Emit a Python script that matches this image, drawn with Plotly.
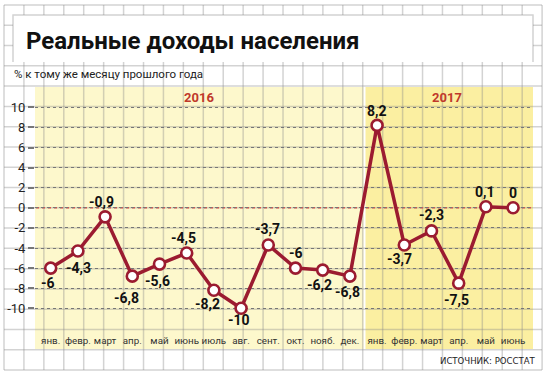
import plotly.graph_objects as go

# ---------------- data ----------------
months = ["янв.", "февр.", "март", "апр.", "май", "июнь", "июль", "авг.", "сент.",
          "окт.", "нояб.", "дек.", "янв.", "февр.", "март", "апр.", "май", "июнь"]
values = [-6, -4.3, -0.9, -6.8, -5.6, -4.5, -8.2, -10, -3.7, -6, -6.2, -6.8,
          8.2, -3.7, -2.3, -7.5, 0.1, 0]
ytick_vals = [10, 8, 6, 4, 2, 0, -2, -4, -6, -8, -10]
ytick_text = ["10", "8", "6", "4", "2", "0", "-2", "-4", "-6", "-8", "-10"]
years = ["2016", "2017"]
title = "Реальные доходы населения"
subtitle = "% к тому же месяцу прошлого года"
source = "ИСТОЧНИК: РОССТАТ"

# label placement (pixel offsets, styling only)
lab_dy = [15, 17, -15, 22, 17, -15, 14, 12, -16, -15, 15, 16, -14, 14, -16, 17, -15, -15]
lab_dx = [-3, 1, -4, -6, -2, -3, -6, -2, -1, 1, -3, -2, 0, -5, 0, -2, -1, 0]

W, H = 547, 380
def X(p):
    return p / W
def Y(p):
    return 1 - p / H

RED = "#9B1B30"
GRID = "rgba(140,140,140,0.38)"
x = list(range(len(months)))

fig = go.Figure()
fig.add_trace(go.Scatter(
    x=x, y=values, mode="lines+markers",
    line=dict(color=RED, width=3.5),
    marker=dict(size=11, color="white", line=dict(color=RED, width=2.6)),
    hoverinfo="skip", showlegend=False,
))

shapes = []
# yellow year zones
shapes.append(dict(type="rect", xref="paper", yref="paper", x0=X(35), x1=X(363.5),
                   y0=Y(349), y1=Y(87), fillcolor="#FDF8CC", line=dict(width=0), layer="below"))
shapes.append(dict(type="rect", xref="paper", yref="paper", x0=X(365.5), x1=X(533),
                   y0=Y(349), y1=Y(87), fillcolor="#FBEFA1", line=dict(width=0), layer="below"))
# background squared paper
for k in range(28):
    px = 4 + 19.93 * k
    shapes.append(dict(type="line", xref="paper", yref="paper", x0=X(px), x1=X(px),
                       y0=Y(5), y1=Y(370), line=dict(color=GRID, width=1.5), layer="below"))
for k in range(19):
    py = 5 + 20.28 * k
    shapes.append(dict(type="line", xref="paper", yref="paper", x0=X(4), x1=X(542),
                       y0=Y(py), y1=Y(py), line=dict(color=GRID, width=1.5), layer="below"))
# title box
shapes.append(dict(type="rect", xref="paper", yref="paper", x0=X(13), x1=X(533),
                   y0=Y(62), y1=Y(15), fillcolor="white", line=dict(width=0), layer="below"))
shapes.append(dict(type="path", xref="paper", yref="paper",
                   path=f"M {X(13)},{Y(62)} L {X(13)},{Y(15)} L {X(533)},{Y(15)} L {X(533)},{Y(62)}",
                   line=dict(color=GRID, width=1.5), layer="below"))
# zero reference line
shapes.append(dict(type="line", xref="paper", yref="y", x0=X(36), x1=X(531), y0=0, y1=0,
                   line=dict(color="#D9534F", width=1.4, dash="dot"), layer="below"))

annotations = []
annotations.append(dict(text=f"<b>{title}</b>", x=X(24), y=Y(41), xref="paper", yref="paper",
                        xanchor="left", yanchor="middle", showarrow=False,
                        font=dict(family="Roboto, sans-serif", size=24, color="#111", weight=900)))
annotations.append(dict(text=subtitle, x=X(12), y=Y(74), xref="paper", yref="paper",
                        xanchor="left", yanchor="middle", showarrow=False,
                        font=dict(family="Roboto, sans-serif", size=11.5, color="#222")))
for yr, px in zip(years, [199, 447]):
    annotations.append(dict(text=f"<b>{yr}</b>", x=X(px), y=Y(97), xref="paper", yref="paper",
                            xanchor="center", yanchor="middle", showarrow=False,
                            font=dict(family="Roboto, sans-serif", size=13, color="#C0392B")))
annotations.append(dict(text=source, x=X(538), y=Y(360), xref="paper", yref="paper",
                        xanchor="right", yanchor="middle", showarrow=False,
                        font=dict(family="Liberation Sans Narrow, DejaVu Sans Condensed, Roboto, sans-serif",
                                  size=9.5, color="#222")))
for xi, v, dy, dx in zip(x, values, lab_dy, lab_dx):
    annotations.append(dict(text=f"<b>{v:g}</b>".replace(".", ","), x=xi, y=v, xref="x", yref="y",
                            xanchor="center", yanchor="middle", showarrow=False,
                            xshift=dx, yshift=-dy,
                            font=dict(family="Roboto, sans-serif", size=14, color="#111")))

fig.update_layout(
    width=W, height=H, margin=dict(l=0, r=0, t=0, b=0),
    paper_bgcolor="white", plot_bgcolor="rgba(0,0,0,0)",
    shapes=shapes, annotations=annotations,
    xaxis=dict(domain=[X(35), X(533)], range=[-0.577, 17.732],
               tickvals=x, ticktext=months, ticklabelposition="inside", tickangle=0,
               ticks="", showgrid=False, zeroline=False, showline=False,
               tickfont=dict(family="Roboto, sans-serif", size=9.8, color="#333")),
    yaxis=dict(domain=[Y(349), Y(87)], range=[-14.05, 12.02],
               tickvals=ytick_vals, ticktext=ytick_text,
               ticks="outside", ticklen=6, tickwidth=1.5, tickcolor="#777",
               showgrid=True, gridcolor="#777", griddash="dot", gridwidth=1.1,
               zeroline=False, showline=False,
               tickfont=dict(family="Roboto, sans-serif", size=13, color="#222")),
)

fig.write_html("out.html", config={"displayModeBar": False},
               post_script="document.body.style.margin='0';")
